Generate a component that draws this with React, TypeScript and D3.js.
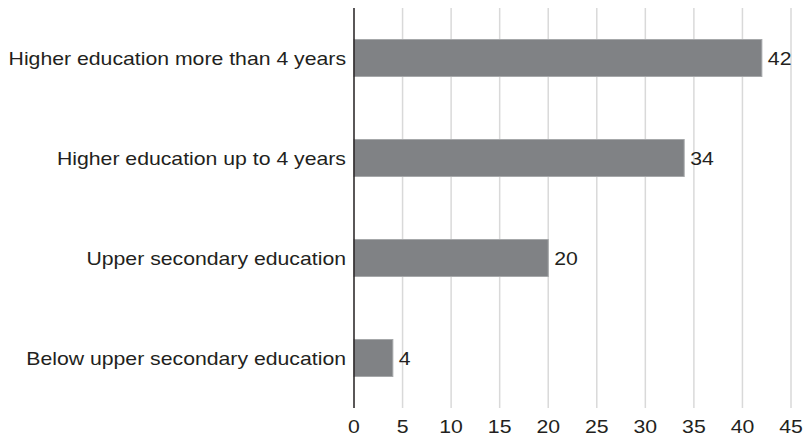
import React from "react";
import * as d3 from "d3";

const categories = [
  "Higher education more than 4 years",
  "Higher education up to 4 years",
  "Upper secondary education",
  "Below upper secondary education",
];
const values = [42, 34, 20, 4];
const tickValues = [0, 5, 10, 15, 20, 25, 30, 35, 40, 45];

const W = 806;
const H = 436;
const plotLeft = 354;
const plotRight = 791;
const plotTop = 8;
const plotBottom = 408;
const SX = 1.18;
const FONT = "'Liberation Sans', Arial, Helvetica, sans-serif";

export default function App() {
  const x = d3.scaleLinear().domain([0, 45]).range([plotLeft, plotRight]);
  const y = d3
    .scaleBand<string>()
    .domain(categories)
    .range([plotTop, plotBottom])
    .paddingInner(0.63)
    .paddingOuter(0.315);

  const label = (tx: number, ty: number, text: string, anchor: string, key: string) => (
    <g key={key} transform={`translate(${tx},${ty}) scale(${SX},1)`}>
      <text textAnchor={anchor} fontFamily={FONT} fontSize={18} fill="#231f20">
        {text}
      </text>
    </g>
  );

  return (
    <svg
      width={W}
      height={H}
      style={{ position: "absolute", left: 0, top: 0, background: "#fff" }}
    >
      {tickValues.slice(1).map((t) => (
        <line
          key={`g${t}`}
          x1={x(t)}
          x2={x(t)}
          y1={plotTop}
          y2={plotBottom}
          stroke="#d9d9d9"
          strokeWidth={1.5}
        />
      ))}
      {categories.map((c, i) => {
        const by = y(c)!;
        const bh = y.bandwidth();
        return (
          <g key={c}>
            <rect
              x={x(0)}
              y={by}
              width={x(values[i]) - x(0)}
              height={bh}
              fill="#808285"
              stroke="#a6a8aa"
              strokeWidth={1}
            />
            {label(x(values[i]) + 6, by + bh / 2 + 6.5, String(values[i]), "start", `v${i}`)}
            {label(346, by + bh / 2 + 6.5, c, "end", `c${i}`)}
          </g>
        );
      })}
      <line
        x1={x(0)}
        x2={x(0)}
        y1={plotTop}
        y2={plotBottom}
        stroke="#231f20"
        strokeWidth={1.5}
      />
      {tickValues.map((t) => label(x(t), 433, String(t), "middle", `t${t}`))}
    </svg>
  );
}
